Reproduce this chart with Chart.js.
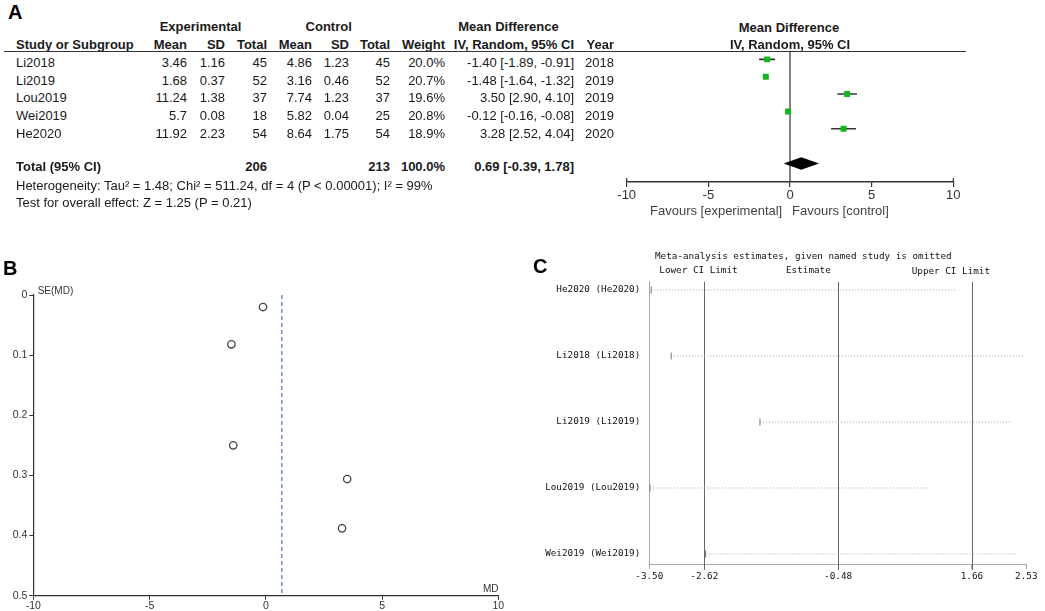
<!DOCTYPE html>
<html><head><meta charset="utf-8">
<script src="https://cdn.jsdelivr.net/npm/chart.js@4.4.1/dist/chart.umd.min.js"></script>
<style>
html,body{margin:0;padding:0;background:#fff;}
body{width:1045px;height:611px;position:relative;overflow:hidden;font-family:"Liberation Sans",Arial,sans-serif;}
canvas{position:absolute;}
</style></head><body>
<canvas id="ca" width="380" height="172" style="left:600px;top:40px;width:380px;height:172px"></canvas>
<canvas id="cb" width="530" height="341" style="left:0px;top:270px;width:530px;height:341px"></canvas>
<canvas id="cc" width="505" height="371" style="left:540px;top:240px;width:505px;height:371px"></canvas>
<script>
// ---------- Data: Panel A (forest) ----------
const studies   = ["Li2018","Li2019","Lou2019","Wei2019","He2020"];
const expMean   = ["3.46","1.68","11.24","5.7","11.92"];
const expSD     = ["1.16","0.37","1.38","0.08","2.23"];
const expN      = [45,52,37,18,54];
const ctlMean   = ["4.86","3.16","7.74","5.82","8.64"];
const ctlSD     = ["1.23","0.46","1.23","0.04","1.75"];
const ctlN      = [45,52,37,25,54];
const weights   = ["20.0%","20.7%","19.6%","20.8%","18.9%"];
const md        = [-1.40,-1.48,3.50,-0.12,3.28];
const ciLo      = [-1.89,-1.64,2.90,-0.16,2.52];
const ciHi      = [-0.91,-1.32,4.10,-0.08,4.04];
const years     = [2018,2019,2019,2019,2020];
const totalExpN = 206, totalCtlN = 213;
const totalMD = 0.69, totalLo = -0.39, totalHi = 1.78;
const forestTicks = [-10,-5,0,5,10];
// ---------- Data: Panel B (funnel) ----------
const seMD      = [0.25,0.082,0.306,0.020,0.388];
const funnelXTicks = [-10,-5,0,5,10];
const funnelYTicks = [0,0.1,0.2,0.3,0.4,0.5];
// ---------- Data: Panel C (sensitivity) ----------
const omitLabels = ["He2020 (He2020)","Li2018 (Li2018)","Li2019 (Li2019)","Lou2019 (Lou2019)","Wei2019 (Wei2019)"];
const omitLo     = [-3.47,-3.15,-1.73,-3.49,-2.60];
const omitHi     = [1.39,2.50,2.30,0.98,2.39];
const overallCI  = [-2.62,-0.48,1.66];
const sensTicks  = [-3.50,-2.62,-0.48,1.66,2.53];

// ---------- text helper ----------
function txt(s,x,y,o){
  o=o||{};
  const d=document.createElement('div');
  d.textContent=s;
  const tx=o.align==='r'?'-100%':(o.align==='c'?'-50%':'0');
  d.style.cssText='position:absolute;left:'+x+'px;top:'+y+'px;white-space:nowrap;line-height:1;'+
    'font:'+(o.font||N13)+';color:'+(o.color||'#1a1a1a')+
    ';transform:translate('+tx+',-50%);';
  document.body.appendChild(d);
}
const N13='13px "Liberation Sans",Arial,sans-serif';
const B12='bold 13px "Liberation Sans",Arial,sans-serif';
const MONO='9.3px "DejaVu Sans Mono",monospace';

// Panel letters
txt('A',8,12,{font:'bold 20px "Liberation Sans",Arial,sans-serif',color:'#000'});
txt('B',3,268,{font:'bold 20px "Liberation Sans",Arial,sans-serif',color:'#000'});
txt('C',533,266,{font:'bold 20px "Liberation Sans",Arial,sans-serif',color:'#000'});

// Panel A table headers
txt('Experimental',200.5,26,{align:'c',font:B12});
txt('Control',328.7,26,{align:'c',font:B12});
txt('Mean Difference',508.5,26,{align:'c',font:B12});
txt('Mean Difference',789,26.7,{align:'c',font:B12});
txt('Study or Subgroup',16,44,{font:B12});
const hdr=[['Mean',187],['SD',225],['Total',267],['Mean',312],['SD',349],['Total',390],['Weight',445],['IV, Random, 95% CI',574],['Year',614]];
hdr.forEach(h=>txt(h[0],h[1],44,{align:'r',font:B12}));
txt('IV, Random, 95% CI',790,44,{align:'c',font:B12});
const line=document.createElement('div');
line.style.cssText='position:absolute;left:4px;top:50.5px;width:962px;height:0;border-top:1.5px solid #333;';
document.body.appendChild(line);

studies.forEach((s,i)=>{
  const y=62+i*17.65;
  txt(s,16,y);
  txt(expMean[i],187,y,{align:'r'});
  txt(expSD[i],225,y,{align:'r'});
  txt(String(expN[i]),267,y,{align:'r'});
  txt(ctlMean[i],312,y,{align:'r'});
  txt(ctlSD[i],349,y,{align:'r'});
  txt(String(ctlN[i]),390,y,{align:'r'});
  txt(weights[i],445,y,{align:'r'});
  txt(md[i].toFixed(2)+' ['+ciLo[i].toFixed(2)+', '+ciHi[i].toFixed(2)+']',574,y,{align:'r'});
  txt(String(years[i]),614,y,{align:'r'});
});
txt('Total (95% CI)',16,166,{font:B12});
txt(String(totalExpN),267,166,{align:'r',font:B12});
txt(String(totalCtlN),390,166,{align:'r',font:B12});
txt('100.0%',445,166,{align:'r',font:B12});
txt(totalMD.toFixed(2)+' ['+totalLo.toFixed(2)+', '+totalHi.toFixed(2)+']',574,166,{align:'r',font:B12});
txt('Heterogeneity: Tau\u00b2 = 1.48; Chi\u00b2 = 511.24, df = 4 (P < 0.00001); I\u00b2 = 99%',16,185);
txt('Test for overall effect: Z = 1.25 (P = 0.21)',16,201.7);
txt('Favours [experimental]',650,210,{color:'#444'});
txt('Favours [control]',792,210,{color:'#444'});

// Panel B texts
txt('SE(MD)',37.7,290,{font:'10px "Liberation Sans",Arial,sans-serif',color:'#333'});
txt('MD',483,588,{font:'10px "Liberation Sans",Arial,sans-serif',color:'#333'});

// Panel C texts
txt('Meta-analysis estimates, given named study is omitted',655,255,{font:MONO,color:'#111'});
txt('Lower CI Limit',659.3,269,{font:MONO,color:'#111'});
txt('Estimate',786,269,{font:MONO,color:'#111'});
txt('Upper CI Limit',911.7,270,{font:MONO,color:'#111'});

const common={responsive:false,animation:false,events:[],plugins:{legend:{display:false},tooltip:{enabled:false}}};

// ---------- Panel A forest chart ----------
const forestPlugin={id:'forestExtras',beforeDatasetsDraw(c){
  const ctx=c.ctx,a=c.chartArea,x=c.scales.x,y=c.scales.y;
  ctx.save();
  ctx.strokeStyle='#333';ctx.lineWidth=1.2;
  const x0=x.getPixelForValue(0);
  ctx.beginPath();ctx.moveTo(x0,a.top);ctx.lineTo(x0,a.bottom);ctx.stroke();
  [forestTicks[0],forestTicks[forestTicks.length-1]].forEach(v=>{
    const px=x.getPixelForValue(v);ctx.beginPath();ctx.moveTo(px,a.bottom-4);ctx.lineTo(px,a.bottom);ctx.stroke();
  });
  const yc=y.getPixelForValue(6),h=6.3;
  ctx.fillStyle='#000';ctx.beginPath();
  ctx.moveTo(x.getPixelForValue(totalLo),yc);
  ctx.lineTo(x.getPixelForValue(totalMD),yc-h);
  ctx.lineTo(x.getPixelForValue(totalHi),yc);
  ctx.lineTo(x.getPixelForValue(totalMD),yc+h);
  ctx.closePath();ctx.fill();
  ctx.restore();
}};
new Chart(document.getElementById('ca'),{
  type:'scatter',
  data:{datasets:[
    ...studies.map((s,i)=>({type:'line',order:1,data:[{x:ciLo[i],y:i},{x:ciHi[i],y:i}],borderColor:'#333',borderWidth:1.6,pointRadius:0})),
    {type:'scatter',order:0,data:md.map((v,i)=>({x:v,y:i})),pointStyle:'rect',pointRadius:4.2,backgroundColor:'#12b81a',borderColor:'#12b81a',borderWidth:0}
  ]},
  options:Object.assign({},common,{
    layout:{padding:{left:26.7,right:26.7,top:10.7,bottom:0}},
    scales:{
      x:{type:'linear',min:-10,max:10,
         afterBuildTicks(s){s.ticks=forestTicks.map(v=>({value:v}));},
         ticks:{font:{family:'"Liberation Sans",Arial,sans-serif',size:13},color:'#333',padding:1,maxRotation:0,autoSkip:false},
         grid:{drawOnChartArea:false,tickLength:5,color:'#333',lineWidth:1.2},
         border:{color:'#333',width:1.5},
         afterFit(s){s.height=30;}},
      y:{type:'linear',display:false,min:-0.5,max:7.07,reverse:true}
    }
  }),
  plugins:[forestPlugin]
});

// ---------- Panel B funnel ----------
const pooledMD=totalMD;
new Chart(document.getElementById('cb'),{
  type:'scatter',
  data:{datasets:[
    {type:'line',order:1,data:[{x:pooledMD,y:funnelYTicks[0]},{x:pooledMD,y:funnelYTicks[funnelYTicks.length-1]}],borderColor:'#4a6fc7',borderWidth:1.2,borderDash:[4,3],pointRadius:0},
    {type:'scatter',order:0,data:md.map((v,i)=>({x:v,y:seMD[i]})),pointStyle:'circle',pointRadius:3.7,borderColor:'#444',borderWidth:1.3,backgroundColor:'rgba(255,255,255,0)'}
  ]},
  options:Object.assign({},common,{
    layout:{padding:{left:0,right:31.7,top:25,bottom:0}},
    scales:{
      x:{type:'linear',min:-10,max:10,
         afterBuildTicks(s){s.ticks=funnelXTicks.map(v=>({value:v}));},
         ticks:{font:{family:'"Liberation Sans",Arial,sans-serif',size:10.5},color:'#333',padding:0,maxRotation:0,autoSkip:false},
         grid:{drawOnChartArea:false,tickLength:4,color:'#333'},
         border:{color:'#333',width:1.2},
         afterFit(s){s.height=15.3;}},
      y:{type:'linear',min:0,max:0.5,reverse:true,
         afterBuildTicks(s){s.ticks=funnelYTicks.map(v=>({value:v}));},
         ticks:{font:{family:'"Liberation Sans",Arial,sans-serif',size:10.5},color:'#333',padding:2,autoSkip:false,callback:v=>String(+v.toFixed(1))},
         grid:{drawOnChartArea:false,tickLength:4,color:'#333'},
         border:{color:'#333',width:1.2},
         afterFit(s){s.width=33.3;}}
    }
  })
});

// ---------- Panel C sensitivity ----------
const cPlugin={id:'sensLines',beforeDatasetsDraw(c){
  const ctx=c.ctx,a=c.chartArea,x=c.scales.x;
  ctx.save();ctx.strokeStyle='#666';ctx.lineWidth=1;
  overallCI.forEach(v=>{const px=Math.round(x.getPixelForValue(v))+0.5;ctx.beginPath();ctx.moveTo(px,a.top);ctx.lineTo(px,a.bottom+6);ctx.stroke();});
  ctx.restore();
}};
new Chart(document.getElementById('cc'),{
  type:'scatter',
  data:{datasets:[
    ...omitLabels.map((s,i)=>({type:'line',order:1,data:[{x:omitLo[i],y:i},{x:omitHi[i],y:i}],borderColor:'#a8a8a8',borderWidth:1,borderDash:[1,2],pointRadius:0})),
    {type:'scatter',order:0,data:omitLo.map((v,i)=>({x:v,y:i})),pointStyle:'line',rotation:90,pointRadius:3.5,borderColor:'#777',borderWidth:1}
  ]},
  options:Object.assign({},common,{
    layout:{padding:{left:0,right:18.7,top:41.7,bottom:0}},
    scales:{
      x:{type:'linear',min:sensTicks[0],max:sensTicks[sensTicks.length-1],
         afterBuildTicks(s){s.ticks=sensTicks.map(v=>({value:v}));},
         ticks:{font:{family:'"DejaVu Sans Mono",monospace',size:9.3},color:'#111',padding:2,maxRotation:0,autoSkip:false,callback:v=>v.toFixed(2)},
         grid:{drawOnChartArea:false,tickLength:5,color:'#aaa'},
         border:{color:'#aaa',width:1},
         afterFit(s){s.height=47;}},
      y:{type:'linear',min:-0.126,max:4.152,reverse:true,
         afterBuildTicks(s){s.ticks=omitLabels.map((l,i)=>({value:i}));},
         ticks:{font:{family:'"DejaVu Sans Mono",monospace',size:9.3},color:'#111',padding:9,autoSkip:false,callback:v=>omitLabels[v]},
         grid:{drawOnChartArea:false,drawTicks:false},
         border:{color:'#aaa',width:1},
         afterFit(s){s.width=109.3;}}
    }
  }),
  plugins:[cPlugin]
});
</script>
</body></html>
